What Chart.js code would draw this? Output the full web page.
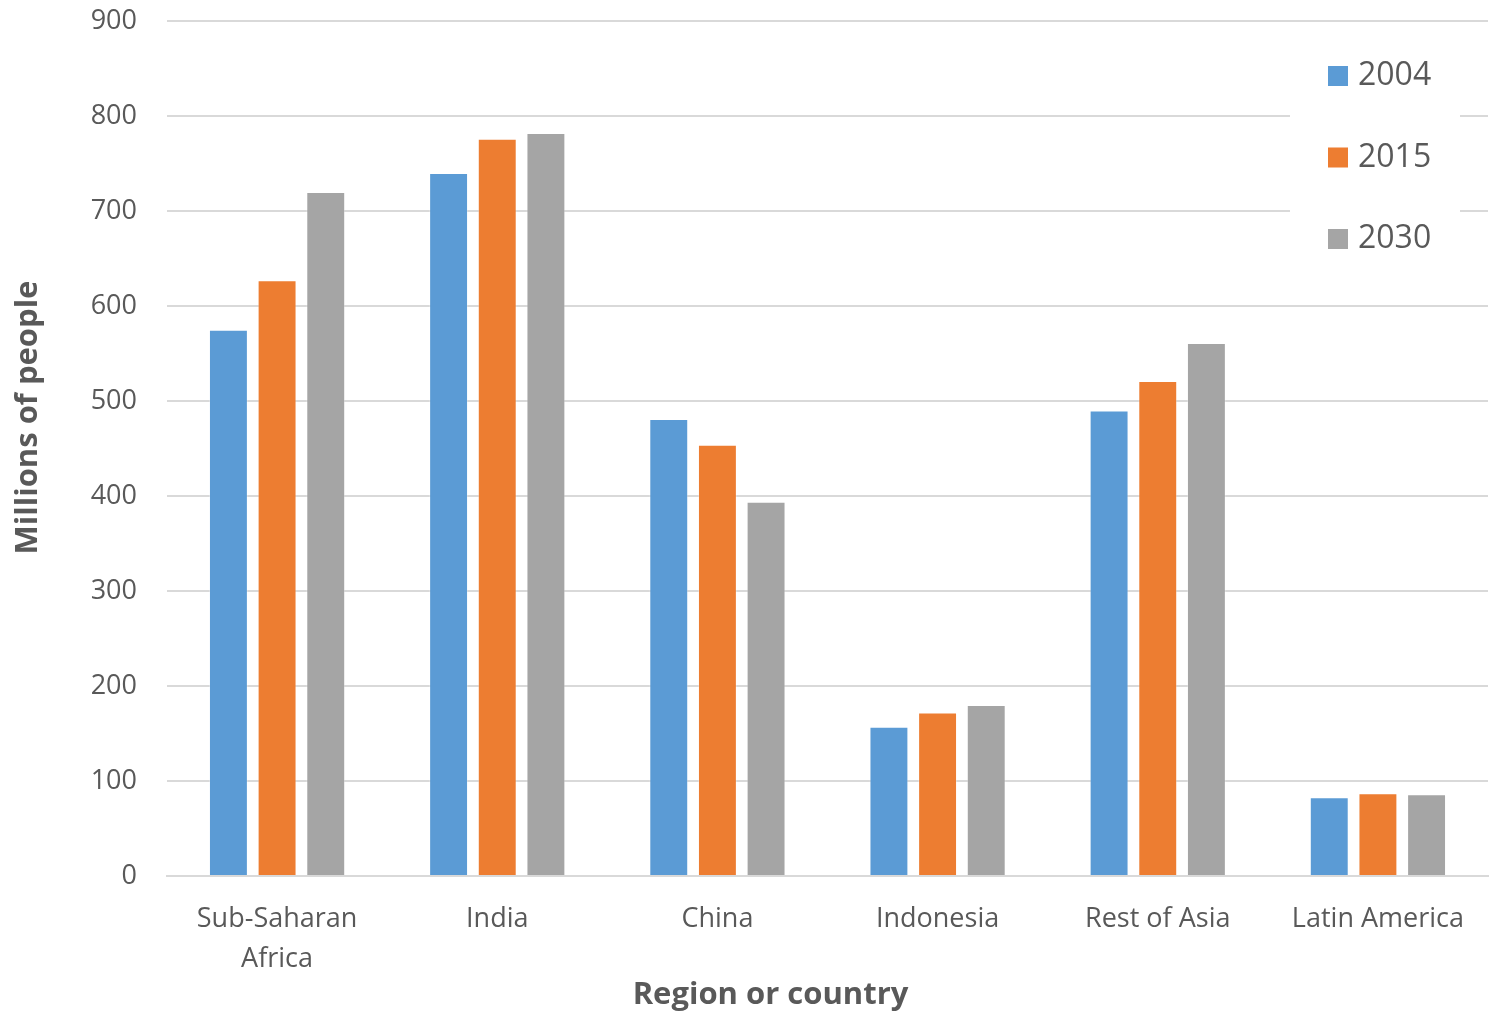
<!DOCTYPE html>
<html>
<head>
<meta charset="utf-8">
<script src="https://cdn.jsdelivr.net/npm/chart.js@4/dist/chart.umd.min.js"></script>
<style>
  html, body { margin: 0; padding: 0; background: #ffffff; }
  #wrap { width: 1501px; height: 1014px; position: relative; }
</style>
</head>
<body>
<div id="wrap"><canvas id="chart"></canvas></div>
<script>
// Regions and population figures (millions of people)
const categories = [["Sub-Saharan", "Africa"], "India", "China", "Indonesia", "Rest of Asia", "Latin America"];
const seriesNames = ["2004", "2015", "2030"];
const values2004 = [575, 740, 481, 157, 490, 83];
const values2015 = [627, 776, 454, 172, 521, 87];
const values2030 = [720, 782, 394, 180, 561, 86];
const yTicks = [0, 100, 200, 300, 400, 500, 600, 700, 800, 900];
const xTitle = "Region or country";
const yTitle = "Millions of people";

const colors = ["#5B9BD5", "#ED7D31", "#A5A5A5"];
const textColor = "#595959";
const fontFamily = "'Open Sans', 'Noto Sans', sans-serif";

// Vertical legend panel in the upper-right corner of the plot
const cornerLegend = {
  id: "cornerLegend",
  beforeDatasetsDraw(chart) {
    const { ctx, chartArea } = chart;
    const boxLeft = chartArea.right - 198;
    const boxTop = chartArea.top + 20;
    ctx.save();
    ctx.fillStyle = "#ffffff";
    ctx.fillRect(boxLeft, boxTop, 170, 222);
    ctx.font = "32px " + fontFamily;
    ctx.textBaseline = "middle";
    ctx.textAlign = "left";
    chart.data.datasets.forEach((ds, i) => {
      const cy = boxTop + 35 + i * 81.5;
      ctx.fillStyle = ds.backgroundColor;
      ctx.fillRect(boxLeft + 38, cy - 10, 20, 20);
      ctx.fillStyle = textColor;
      ctx.fillText(ds.label, boxLeft + 68, cy);
    });
    ctx.restore();
  }
};

// Axis titles, placed slightly off the plot centre
const axisTitles = {
  id: "axisTitles",
  afterDraw(chart) {
    const { ctx, chartArea } = chart;
    ctx.save();
    ctx.fillStyle = textColor;
    ctx.font = "bold 31px " + fontFamily;
    ctx.textAlign = "center";
    ctx.textBaseline = "middle";
    ctx.fillText(xTitle, chart.width / 2 + 20, chart.height - 19);
    ctx.translate(28, (chartArea.top + chartArea.bottom) / 2 - 31);
    ctx.rotate(-Math.PI / 2);
    ctx.fillText(yTitle, 0, 0);
    ctx.restore();
  }
};

const ctx = document.getElementById("chart");
new Chart(ctx, {
  type: "bar",
  data: {
    labels: categories,
    datasets: [values2004, values2015, values2030].map((vals, i) => ({
      label: seriesNames[i],
      data: vals,
      backgroundColor: colors[i],
      borderColor: "rgba(255,255,255,0.3)",
      borderWidth: 1,
      categoryPercentage: 0.663,
      barPercentage: 0.8
    }))
  },
  options: {
    responsive: true,
    maintainAspectRatio: false,
    animation: false,
    layout: { padding: { top: 21, right: 13, left: 0, bottom: 0 } },
    plugins: {
      legend: { display: false },
      tooltip: { enabled: false }
    },
    scales: {
      x: {
        grid: { display: false, drawTicks: false },
        border: { display: true, color: "#d9d9d9", width: 2 },
        ticks: {
          color: textColor,
          font: { family: fontFamily, size: 27, lineHeight: 1.48 },
          padding: 23,
          maxRotation: 0,
          autoSkip: false
        },
        afterFit(scale) { scale.height = 138; scale.paddingLeft = 0; scale.paddingRight = 0; }
      },
      y: {
        min: 0,
        max: 900,
        afterBuildTicks(scale) { scale.ticks = yTicks.map(v => ({ value: v })); },
        grid: { color: "#d9d9d9", lineWidth: 2, drawTicks: false },
        border: { display: false },
        ticks: {
          color: textColor,
          font: { family: fontFamily, size: 27 },
          padding: 30
        },
        afterFit(scale) { scale.width = 167; scale.paddingTop = 0; scale.paddingBottom = 0; }
      }
    }
  },
  plugins: [cornerLegend, axisTitles]
});
</script>
</body>
</html>
